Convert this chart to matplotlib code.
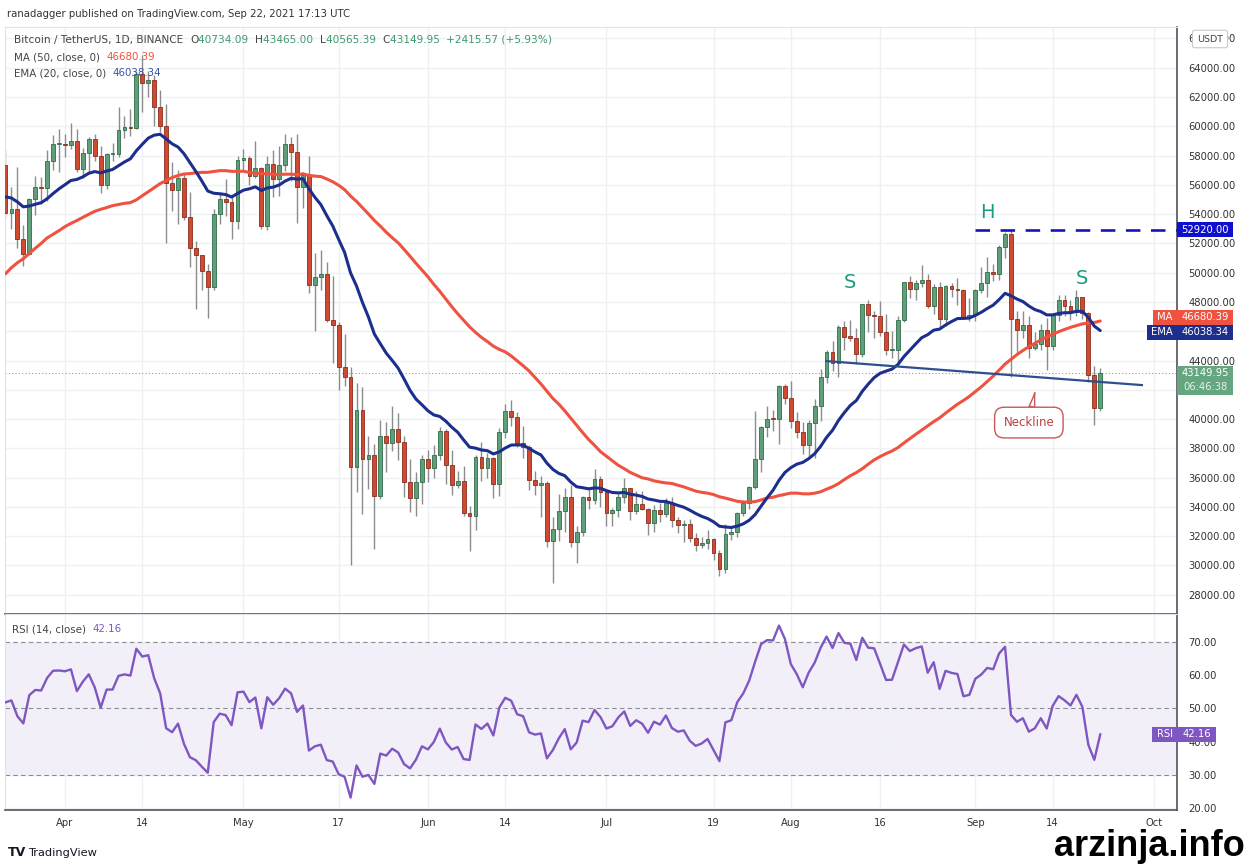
import matplotlib
matplotlib.use("Agg")
import matplotlib.pyplot as plt
import numpy as np
import pandas as pd
from matplotlib.patches import Rectangle, FancyBboxPatch

W, H = 1247, 864

# daily closes before the visible window (Feb 1 - Mar 21), only used to warm up MA / EMA / RSI
warmup_close = [33515, 35470, 37620, 36930, 38290, 39190, 38800, 46370, 46420, 44810,
                47970, 47380, 47410, 48580, 47930, 49150, 52120, 51550, 55910, 55840,
                57410, 54090, 48890, 49680, 47260, 46100, 46150, 45130,
                49590, 48440, 50350, 48370, 48760, 48880, 50970, 52380, 54880, 55860,
                57770, 57220, 61190, 59000, 55600, 56900, 58910, 57650, 58030, 58100, 57350]

start_date = "2021-03-22"
first_open = 57350

close = [
    # Mar 22-31
    54080, 54340, 52300, 51300, 55050, 55840, 55780, 57630, 58760, 58800,
    # Apr
    58730, 58990, 57060, 58200, 59130, 57990, 56000, 58090, 58090, 59770,
    59960, 59860, 63575, 62960, 63160, 61330, 60000, 56150, 55630, 56470,
    53800, 51700, 51190, 50100, 49050, 54000, 55030, 54850, 53560, 57700,
    # May
    57800, 56580, 57170, 53200, 57440, 56400, 57360, 58800, 58230, 55860,
    56700, 49150, 49700, 49900, 46760, 46450, 43540, 42900, 36700, 40600,
    37300, 37530, 34770, 38850, 38350, 39300, 38440, 35690, 34620, 35680, 37300,
    # Jun
    36690, 37570, 39190, 36850, 35520, 35800, 33580, 33400, 37390, 36690,
    37340, 35550, 39100, 40520, 40140, 38350, 38090, 35820, 35480, 35600,
    31680, 32510, 33690, 34660, 31590, 32280, 34700, 34500, 35900, 35040,
    # Jul
    33570, 33800, 34690, 35290, 33690, 34220, 33860, 32880, 33810, 33520,
    34260, 33090, 32730, 32820, 31880, 31380, 31520, 31780, 30840, 29790,
    32140, 32290, 33600, 34290, 35380, 37270, 39460, 40030, 40010, 42240, 41460,
    # Aug
    39850, 39150, 38200, 39720, 40870, 42840, 44610, 43830, 46290, 45600,
    45550, 44430, 47830, 47100, 47050, 45940, 44690, 44710, 46760, 49340,
    48870, 49290, 49530, 47710, 48990, 46850, 49070, 48900, 48810, 46990, 47130,
    # Sep 1-22
    48810, 49280, 50030, 49940, 51770, 52660, 46860, 46050, 46400, 44850,
    45150, 46060, 44960, 47090, 48140, 47750, 47280, 48310, 47250, 43010,
    40730, 43150]

high = [
    58420, 55830, 57200, 53240, 55100, 56600, 56560, 58400, 59370, 59800,
    59470, 60200, 59790, 58500, 59250, 59500, 58650, 58180, 58880, 61300,
    60700, 61200, 63800, 64850, 63800, 63520, 62500, 61500, 57530, 57000,
    56800, 55500, 52130, 51200, 50580, 54350, 55500, 56420, 55200, 58000,
    58450, 57950, 58980, 57200, 57950, 58360, 58650, 59500, 59300, 59500,
    56900, 58000, 51370, 51570, 50700, 49800, 46640, 45800, 43550, 42450,
    42200, 38850, 38270, 39920, 39800, 40900, 40400, 38850, 37250, 36400, 37530,
    37900, 38230, 39480, 39290, 37920, 36480, 36790, 34070, 37540, 38400,
    37690, 37440, 39400, 41000, 41330, 40500, 39560, 38200, 36460, 36100,
    35750, 33300, 34880, 35300, 35500, 32700, 34750, 35300, 36600, 36100,
    35040, 33940, 34950, 35950, 35290, 35120, 35060, 33910, 34100, 34260,
    34600, 34680, 33340, 33120, 33190, 32250, 31950, 32450, 31900, 31050,
    32860, 32580, 33650, 34500, 35400, 40550, 39540, 40900, 40640, 42320, 42410,
    42600, 40460, 39780, 39970, 41350, 43390, 44700, 45310, 46450, 46700,
    46780, 46220, 47890, 48150, 47390, 48050, 47160, 46000, 47030, 49380,
    49760, 49510, 50500, 49880, 49230, 49360, 49180, 49310, 49650, 48910, 48250,
    48900, 50400, 51050, 50560, 51900, 52780, 52920, 47360, 47400, 47040,
    45980, 46460, 46880, 47250, 48490, 48500, 48160, 48820, 48370, 47340,
    43640, 43465]

low = [
    53650, 53000, 51700, 50430, 51225, 53970, 54700, 54900, 57000, 56870,
    57930, 58440, 56900, 56490, 56800, 57600, 55470, 55700, 57650, 57900,
    59200, 59350, 59800, 61000, 62020, 60000, 59580, 52000, 54220, 53330,
    53600, 50400, 47500, 48800, 46930, 48800, 53300, 53870, 52330, 53000,
    57000, 56000, 56480, 53000, 52900, 55200, 55250, 56970, 56250, 53400,
    54400, 48600, 46000, 48800, 46650, 43800, 42000, 42250, 30000, 35000,
    33500, 35200, 31100, 34550, 36400, 37800, 37200, 34700, 33630, 33400, 34200,
    35670, 35980, 37170, 35570, 34800, 35260, 33350, 31000, 32400, 35800,
    35950, 34600, 34760, 38730, 39500, 38100, 37370, 35130, 34800, 33340,
    31250, 28800, 31680, 32300, 31270, 30150, 32000, 33860, 34230, 34000,
    32710, 32700, 33330, 34300, 33120, 33530, 33770, 32080, 32260, 33000,
    33320, 32660, 32200, 31600, 31570, 31020, 31160, 31110, 30400, 29280,
    29480, 31710, 31950, 33400, 33850, 35210, 36400, 38770, 39200, 38310, 41000,
    39420, 38690, 37640, 37510, 37330, 39850, 42450, 43260, 42850, 44700,
    45350, 43770, 44250, 45970, 45520, 45690, 44380, 44200, 43930, 46630,
    48290, 48100, 49020, 47600, 47150, 46320, 46370, 48370, 47760, 46860, 46700,
    46700, 48600, 48350, 49400, 49500, 50970, 42850, 44410, 45510, 44140,
    44720, 44740, 43370, 44750, 46700, 47010, 46750, 47040, 46830, 42500,
    39600, 40565]

assert len(close) == len(high) == len(low) == 185

tick_dates = ["2021-04-01", "2021-04-14", "2021-05-01", "2021-05-17", "2021-06-01",
              "2021-06-14", "2021-07-01", "2021-07-19", "2021-08-01", "2021-08-16",
              "2021-09-01", "2021-09-14", "2021-10-01"]
tick_labels = ["Apr", "14", "May", "17", "Jun", "14", "Jul", "19", "Aug", "16", "Sep", "14", "Oct"]

# price scale labels that sit under the value tags in the reference
hidden_price_labels = [42000, 46000]

# drawn levels
h_level = 52920.00
h_start = "2021-09-01"
neckline = [("2021-08-07", 43960), ("2021-09-29", 42320)]
last_price = 43149.95
ma_last, ema_last, rsi_last = 46680.39, 46038.34, 42.16

# pattern labels (date, price)
pattern_labels = [("S", "2021-08-11", 49360), ("H", "2021-09-03", 54140), ("S", "2021-09-19", 49570)]

GREEN, GREEN_EDGE = "#5f9f79", "#2f6d49"
RED, RED_EDGE = "#cf4a31", "#8a2d1d"
MA_C, EMA_C = "#ef5340", "#1c2f8c"
RSI_C = "#7e57c2"
TEAL = "#1a9c82"
GRID = "#eef0f4"
AXIS_C = "#50535e"
TXT = "#444444"

# ---------------------------------------------------------------
# indicators
# ---------------------------------------------------------------
all_close = pd.Series(warmup_close + close, dtype=float)
n_warm = len(warmup_close)
ma50 = all_close.rolling(50).mean().to_numpy()[n_warm:]
ema20 = all_close.ewm(span=20, adjust=False).mean().to_numpy()[n_warm:]
delta = all_close.diff()
gain = delta.clip(lower=0).ewm(alpha=1 / 14, adjust=False).mean()
loss = (-delta.clip(upper=0)).ewm(alpha=1 / 14, adjust=False).mean()
rsi = (100 - 100 / (1 + gain / loss)).to_numpy()[n_warm:]

dates = pd.date_range(start_date, periods=len(close), freq="D")
x = np.arange(len(close))
opens = np.array([first_open] + close[:-1], dtype=float)
c = np.array(close, dtype=float)
hi = np.array(high, dtype=float)
lo = np.array(low, dtype=float)


def day(d):
    return (pd.Timestamp(d) - dates[0]).days


# ---------------------------------------------------------------
# figure / axes
# ---------------------------------------------------------------
fig = plt.figure(figsize=(W / 100, H / 100), dpi=100)
fig.patch.set_facecolor("white")

L, R = 5, 1177
main_top, main_bot = 27, 614
rsi_bot = 810
ax = fig.add_axes([L / W, 1 - main_bot / H, (R - L) / W, (main_bot - main_top) / H])
axr = fig.add_axes([L / W, 1 - rsi_bot / H, (R - L) / W, (rsi_bot - main_bot) / H])

xlim = (-0.08, 196.9)
for a in (ax, axr):
    a.set_xlim(*xlim)
    a.set_xticks([day(d) for d in tick_dates])
    a.grid(True, color=GRID, lw=1)
    a.set_axisbelow(True)
    a.yaxis.tick_right()
    a.tick_params(axis="both", length=0, colors="#333333", labelsize=7.2)
    a.tick_params(axis="y", pad=8)
    for s in ("left", "top"):
        a.spines[s].set_color("#e0e3eb")
    for s in ("right", "bottom"):
        a.spines[s].set_color(AXIS_C)
        a.spines[s].set_linewidth(1.2)

ax.set_xticklabels([])
axr.set_xticklabels(tick_labels)
axr.tick_params(axis="x", pad=6)

# price panel
ax.set_ylim(26685, 66780)
yt = np.arange(28000, 66001, 2000)
ax.set_yticks(yt)
ax.set_yticklabels(["" if v in hidden_price_labels else f"{v:.2f}" for v in yt])

up = c >= opens
body_lo = np.minimum(opens, c)
body_h = np.maximum(np.abs(c - opens), 90)
ax.vlines(x, lo, hi, color="#8c8c8c", lw=1, zorder=2)
ax.bar(x[up], body_h[up], bottom=body_lo[up], width=0.64, color=GREEN,
       edgecolor=GREEN_EDGE, linewidth=0.6, zorder=3)
ax.bar(x[~up], body_h[~up], bottom=body_lo[~up], width=0.64, color=RED,
       edgecolor=RED_EDGE, linewidth=0.6, zorder=3)

ax.plot(x, ma50, color=MA_C, lw=2.2, zorder=4, solid_capstyle="round")
ax.plot(x, ema20, color=EMA_C, lw=2.2, zorder=4, solid_capstyle="round")

ax.axhline(last_price, color="#9598a1", lw=0.8, ls=(0, (1, 2)), zorder=1)
ax.plot([day(h_start), xlim[1]], [h_level, h_level], color="#1616b8", lw=1.9,
        ls=(0, (5.5, 4)), zorder=5)
ax.plot([day(neckline[0][0]), day(neckline[1][0])], [neckline[0][1], neckline[1][1]],
        color="#2d4f8e", lw=1.6, zorder=5)

for txt, d, p in pattern_labels:
    ax.text(day(d), p, txt, color=TEAL, fontsize=14, ha="center", va="center", zorder=6)

ax.annotate("Neckline", xy=(day("2021-09-11"), 41800), xytext=(day("2021-09-10"), 39760),
            color="#b5423f", fontsize=8.5, ha="center", va="center", zorder=7,
            bbox=dict(boxstyle="round,pad=0.75,rounding_size=0.8", fc="white", ec="#c45a57", lw=1),
            arrowprops=dict(arrowstyle="wedge,tail_width=0.5,shrink_factor=0.4", fc="white",
                            ec="#c45a57", lw=1, shrinkA=0, shrinkB=0))

# rsi panel
axr.set_ylim(19.5, 78.3)
rt = [20, 30, 40, 50, 60, 70]
axr.set_yticks(rt)
axr.set_yticklabels([f"{v:.2f}" for v in rt])
axr.axhspan(30, 70, color=RSI_C, alpha=0.09, lw=0, zorder=0)
for lvl in (30, 50, 70):
    axr.axhline(lvl, color="#8a8d96", lw=0.8, ls=(0, (4, 3)), zorder=1)
axr.plot(x, rsi, color=RSI_C, lw=1.7, zorder=3)

# ---------------------------------------------------------------
# text / tags
# ---------------------------------------------------------------
renderer = fig.canvas.get_renderer()


def text_run(x0, y0, parts, size):
    for s, col in parts:
        t = fig.text(x0 / W, 1 - y0 / H, s, color=col, fontsize=size, va="center", ha="left")
        x0 += t.get_window_extent(renderer).width


OHLC_G = "#3f9a6e"
text_run(7, 14, [("ranadagger published on TradingView.com, Sep 22, 2021 17:13 UTC", "#333333")], 7.3)
text_run(14, 40, [("Bitcoin / TetherUS, 1D, BINANCE  ", TXT), ("O", TXT), ("40734.09  ", OHLC_G),
                  ("H", TXT), ("43465.00  ", OHLC_G), ("L", TXT), ("40565.39  ", OHLC_G),
                  ("C", TXT), ("43149.95  ", OHLC_G), ("+2415.57 (+5.93%)", OHLC_G)], 7.55)
text_run(14, 57, [("MA (50, close, 0)  ", TXT), (f"{ma_last:.2f}", MA_C)], 7.4)
text_run(14, 73, [("EMA (20, close, 0)  ", TXT), (f"{ema_last:.2f}", "#3a55a8")], 7.4)
text_run(12, 629, [("RSI (14, close)  ", TXT), (f"{rsi_last:.2f}", RSI_C)], 7.4)


def py(a, v):
    return a.transData.transform((0, v))[1]


def tag(yc, x0, x1, text, fc, h=15, size=7.2, tc="white"):
    fig.add_artist(Rectangle((x0 / W, (yc - h / 2) / H), (x1 - x0) / W, h / H,
                             transform=fig.transFigure, fc=fc, ec="none", zorder=10))
    fig.text((x0 + x1) / 2 / W, yc / H, text, color=tc, fontsize=size, ha="center",
             va="center", zorder=11)


tag(py(ax, h_level), 1177, 1233, f"{h_level:.2f}", "#1010cc")
y_ma = py(ax, ma_last) + 4
y_ema = py(ax, ema_last) - 1.5
tag(y_ma, 1153, 1177, "MA", MA_C)
tag(y_ma, 1177, 1233, f"{ma_last:.2f}", MA_C)
tag(y_ema, 1147, 1177, "EMA", EMA_C)
tag(y_ema, 1177, 1233, f"{ema_last:.2f}", EMA_C)
y_lp = py(ax, last_price)
fig.add_artist(Rectangle((1177 / W, (y_lp - 22) / H), 56 / W, 29 / H, transform=fig.transFigure,
                         fc="#63a67f", ec="none", zorder=10))
fig.text(1205 / W, y_lp / H, f"{last_price:.2f}", color="white", fontsize=7.2, ha="center",
         va="center", zorder=11)
fig.text(1205 / W, (y_lp - 14) / H, "06:46:38", color="#e6f2ea", fontsize=7.2, ha="center",
         va="center", zorder=11)
y_rsi = py(axr, rsi_last)
tag(y_rsi, 1152, 1177, "RSI", RSI_C)
tag(y_rsi, 1177, 1216, f"{rsi_last:.2f}", RSI_C)

# currency badge on top of the price scale
fig.add_artist(FancyBboxPatch((1195 / W, 1 - 46 / H), 30 / W, 14 / H,
                              boxstyle="round,pad=0.002", transform=fig.transFigure,
                              fc="white", ec="#c8cad0", lw=0.8, zorder=10))
fig.text(1210 / W, 1 - 39 / H, "USDT", color="#444444", fontsize=6.8, ha="center",
         va="center", zorder=11)

# footer
fig.text(8 / W, 1 - 853 / H, "TV", color="#131722", fontsize=9, fontweight="bold",
         va="center", ha="left")
fig.text(28 / W, 1 - 853 / H, "TradingView", color="#131722", fontsize=8.2, va="center", ha="left")
fig.text(1245 / W, 1 - 846 / H, "arzinja.info", color="black", fontsize=26,
         fontweight="bold", family="Liberation Sans", va="center", ha="right")

fig.savefig("out.png", dpi=100)
